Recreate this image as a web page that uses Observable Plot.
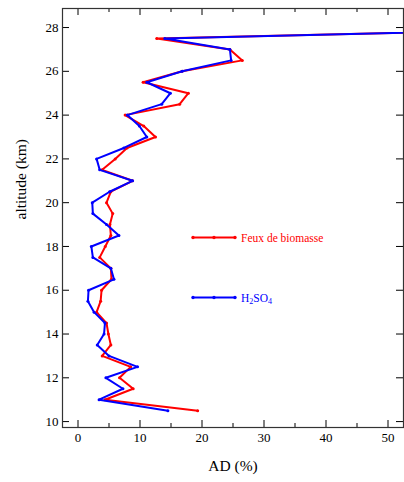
<!DOCTYPE html>
<html>
<head>
<meta charset="utf-8">
<script src="https://cdn.jsdelivr.net/npm/d3@7"></script>
<script src="https://cdn.jsdelivr.net/npm/@observablehq/plot@0.6"></script>
<style>
  html, body { margin: 0; padding: 0; background: #fff; }
  #wrap { position: relative; width: 404px; height: 482px; }
  #wrap svg text { font-family: "Liberation Serif", "Times New Roman", serif; }
  #legend { position: absolute; left: 0; top: 0; pointer-events: none; }
</style>
</head>
<body>
<div id="wrap"></div>
<script>
// Altitudes (km)
const altitudes = [10.5, 11, 11.5, 12, 12.5, 13, 13.5, 14, 14.5, 15, 15.5, 16, 16.5, 17, 17.5, 18, 18.5, 19, 19.5, 20, 20.5, 21, 21.5, 22, 22.5, 23, 23.5, 24, 24.5, 25, 25.5, 26, 26.5, 27, 27.5, 28];
// AD (%) — Feux de biomasse
const feux = [19.3, 4.35, 8.9, 6.7, 8.5, 3.9, 5.3, 4.9, 4.6, 3.0, 3.65, 3.8, 5.4, 5.3, 3.5, 4.4, 5.3, 5.15, 5.6, 4.6, 5.3, 8.8, 3.9, 6.0, 7.9, 12.5, 10.6, 7.6, 16.4, 17.8, 10.5, 16.8, 26.5, 24.5, 12.7, 88];
// AD (%) — H2SO4
const h2so4 = [14.5, 3.4, 7.25, 4.5, 9.6, 5.0, 3.1, 4.2, 4.35, 2.6, 1.6, 1.7, 5.8, 5.3, 2.4, 2.15, 6.6, 4.6, 2.4, 2.3, 5.1, 8.8, 3.5, 3.0, 7.4, 11.1, 9.9, 7.95, 13.5, 14.9, 11.1, 16.8, 24.7, 24.5, 14.0, 88];

const xMajor = [0, 10, 20, 30, 40, 50];
const xMinor = [5, 15, 25, 35, 45];
const yMajor = [10, 12, 14, 16, 18, 20, 22, 24, 26, 28];

const seriesNames = ["Feux de biomasse", "H2SO4"];
const seriesColors = ["#ff0000", "#0000ff"];

const redData = altitudes.map((a, i) => ({alt: a, ad: feux[i]}));
const blueData = altitudes.map((a, i) => ({alt: a, ad: h2so4[i]}));

const FONT = "Liberation Serif, Times New Roman, serif";
const W = 404, H = 482, mL = 62, mR = 1, mT = 8, mB = 55;
const pw = W - mL - mR, ph = H - mT - mB;

const chart = Plot.plot({
  width: W, height: H,
  marginLeft: mL, marginRight: mR, marginTop: mT, marginBottom: mB,
  style: {fontFamily: FONT, background: "#fff", color: "#000"},
  x: {domain: [-2.5, 52.5]},
  y: {domain: [9.73, 28.87]},
  marks: [
    Plot.line(redData, {x: "ad", y: "alt", stroke: seriesColors[0], strokeWidth: 2, clip: true}),
    Plot.dot(redData, {x: "ad", y: "alt", fill: seriesColors[0], r: 1.5, clip: true}),
    Plot.line(blueData, {x: "ad", y: "alt", stroke: seriesColors[1], strokeWidth: 2, clip: true}),
    Plot.dot(blueData, {x: "ad", y: "alt", fill: seriesColors[1], r: 1.5, clip: true}),
    // inward ticks
    Plot.tickX(xMajor, {x: d => d, insetTop: ph - 7, stroke: "#000"}),
    Plot.tickX(xMinor, {x: d => d, insetTop: ph - 4, stroke: "#000"}),
    Plot.tickX(xMajor, {x: d => d, insetBottom: ph - 7, stroke: "#000"}),
    Plot.tickX(xMinor, {x: d => d, insetBottom: ph - 4, stroke: "#000"}),
    Plot.tickY(yMajor, {y: d => d, insetRight: pw - 7, stroke: "#000"}),
    Plot.tickY(yMajor, {y: d => d, insetLeft: pw - 7, stroke: "#000"}),
    Plot.axisX(xMajor, {tickSize: 0, tickPadding: 5, fontSize: 13, fontFamily: FONT, label: null}),
    Plot.axisY(yMajor, {tickSize: 0, tickPadding: 4, fontSize: 13, fontFamily: FONT, label: null}),
    Plot.frame({stroke: "#333", strokeWidth: 1.2}),
    Plot.text(["AD (%)"], {frameAnchor: "bottom", dy: 43, fontSize: 15.5, fontFamily: FONT, fill: "#000"}),
    Plot.text(["altitude (km)"], {frameAnchor: "left", dx: -41, dy: 1.5, rotate: -90, fontSize: 15.5, fontFamily: FONT, fill: "#000"})
  ]
});

const wrap = document.getElementById("wrap");
wrap.appendChild(chart);

// Legend overlay
const leg = d3.select(wrap).append("svg")
  .attr("id", "legend").attr("width", W).attr("height", H)
  .style("font-family", FONT);
const legendRows = [
  {y: 237.5, name: seriesNames[0], color: seriesColors[0]},
  {y: 297.5, name: seriesNames[1], color: seriesColors[1]}
];
legendRows.forEach(r => {
  leg.append("line").attr("x1", 193).attr("x2", 235).attr("y1", r.y).attr("y2", r.y)
    .attr("stroke", r.color).attr("stroke-width", 2);
  [193, 214, 235].forEach(cx => leg.append("circle").attr("cx", cx).attr("cy", r.y).attr("r", 1.7).attr("fill", r.color));
  const t = leg.append("text").attr("x", 241).attr("y", r.y + 4).attr("fill", r.color).attr("font-size", 11.5);
  if (r.name === "H2SO4") {
    t.append("tspan").text("H");
    t.append("tspan").text("2").attr("font-size", 8).attr("dy", 2.5);
    t.append("tspan").text("SO").attr("dy", -2.5);
    t.append("tspan").text("4").attr("font-size", 8).attr("dy", 2.5);
  } else {
    t.text(r.name);
  }
});
</script>
</body>
</html>
